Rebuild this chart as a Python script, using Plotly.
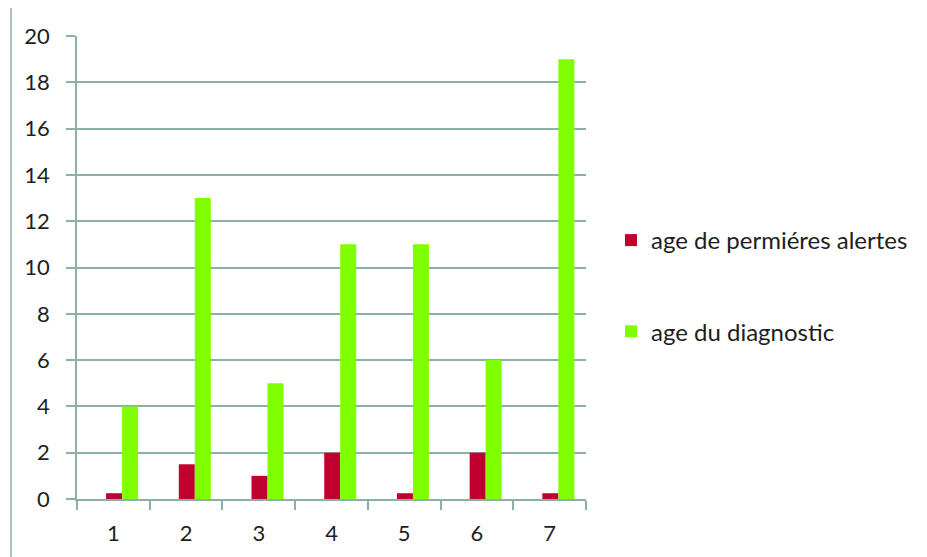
import plotly.graph_objects as go

categories = ["1", "2", "3", "4", "5", "6", "7"]
premieres_alertes = [0.25, 1.5, 1, 2, 0.25, 2, 0.25]
diagnostic = [4, 13, 5, 11, 11, 6, 19]
y_ticks = list(range(0, 21, 2))

RED = "#C0002F"
GREEN = "#80FF00"
GRID = "#8DB0A6"
FONT = "Lato, 'Open Sans', sans-serif"
TEXT = "#1E1E1E"

L, R, T, B = 77, 341, 36, 58
W, H = 927, 557
plot_w = W - L - R

fig = go.Figure()
fig.add_trace(go.Bar(
    x=categories, y=premieres_alertes, name="age de permiéres alertes",
    marker=dict(color=RED, line=dict(width=0)),
    width=0.22, offset=-0.1, legendgroup="a",
))
fig.add_trace(go.Bar(
    x=categories, y=diagnostic, name="age du diagnostic",
    marker=dict(color=GREEN, line=dict(width=0)),
    width=0.22, offset=0.12, legendgroup="b",
))

# thin vertical rule at the left edge of the frame
fig.add_shape(type="line", xref="paper", yref="paper",
              x0=(11 - L) / plot_w, x1=(11 - L) / plot_w,
              y0=-B / (H - T - B), y1=1 + 28 / (H - T - B),
              line=dict(color=GRID, width=1.5))

fig.update_layout(
    width=W, height=H,
    margin=dict(l=L, r=R, t=T, b=B),
    paper_bgcolor="white", plot_bgcolor="white",
    barmode="group",
    font=dict(family=FONT, size=22, color=TEXT),
    showlegend=True,
    legend=dict(x=(611 - L) / plot_w, y=(H - B - 218) / (H - T - B),
                xanchor="left", yanchor="top",
                font=dict(size=24, color=TEXT), tracegroupgap=57,
                itemwidth=30),
    xaxis=dict(
        type="category", range=[-0.5, 6.5],
        showline=True, linecolor=GRID, linewidth=1.5,
        ticks="outside", tickson="boundaries", ticklen=9, tickcolor=GRID,
        tickwidth=1.5, showgrid=False, ticklabelstandoff=14,
        tickfont=dict(size=22, color=TEXT),
    ),
    yaxis=dict(
        range=[0, 20], tickvals=y_ticks,
        showline=True, linecolor=GRID, linewidth=1.5,
        showgrid=True, gridcolor=GRID, gridwidth=1.5,
        ticks="outside", ticklen=9, tickcolor=GRID, tickwidth=1.5,
        ticklabelstandoff=12,
        tickfont=dict(size=22, color=TEXT),
        zeroline=False,
    ),
)

fig.write_html("out.html")
